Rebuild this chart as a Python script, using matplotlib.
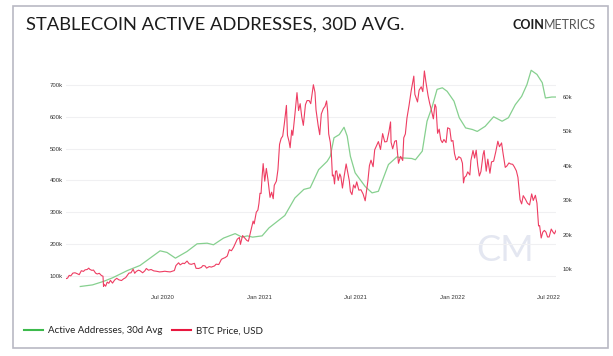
import matplotlib
matplotlib.use("Agg")
import matplotlib.pyplot as plt
import matplotlib.dates as mdates
from matplotlib.lines import Line2D
from matplotlib.patches import Rectangle
import pandas as pd

plt.rcParams['font.family'] = ['Lato', 'DejaVu Sans']

# Active addresses, 30d avg (left axis)
aa_dates = ["2020-01-28", "2020-02-20", "2020-03-12", "2020-03-30", "2020-04-26", "2020-05-20",
            "2020-06-08", "2020-06-27", "2020-07-10", "2020-07-26", "2020-08-17", "2020-09-05",
            "2020-09-24", "2020-10-06", "2020-10-25", "2020-11-16", "2020-11-29", "2020-12-09",
            "2020-12-19", "2021-01-06", "2021-01-19", "2021-02-18", "2021-03-09", "2021-03-26",
            "2021-04-07", "2021-04-23", "2021-05-09", "2021-05-15", "2021-05-22", "2021-06-01",
            "2021-06-10", "2021-06-16", "2021-06-22", "2021-07-01", "2021-07-20", "2021-08-02",
            "2021-08-14", "2021-09-02", "2021-09-18", "2021-09-27", "2021-10-16", "2021-10-23",
            "2021-11-05", "2021-11-14", "2021-11-24", "2021-12-03", "2021-12-13", "2021-12-22",
            "2022-01-04", "2022-01-14", "2022-01-26", "2022-02-08", "2022-02-17", "2022-03-04",
            "2022-03-20", "2022-04-05", "2022-04-17", "2022-04-30", "2022-05-12", "2022-05-22",
            "2022-05-30", "2022-06-10", "2022-06-20", "2022-06-26", "2022-07-08", "2022-07-16"]
aa_values = [67, 72, 83, 95, 117, 133,
             156, 179, 174, 156, 177, 201,
             203, 198, 219, 233, 222, 226,
             222, 226, 251, 290, 345, 372,
             377, 434, 460, 476, 534, 544,
             567, 539, 476, 424, 381, 361,
             366, 450, 474, 471, 469, 465,
             492, 586, 633, 686, 691, 680,
             649, 597, 565, 560, 554, 570,
             600, 586, 597, 638, 664, 701,
             746, 733, 707, 659, 662, 662]

# BTC price, USD (right axis), in thousands
btc_dates = ["2020-01-01", "2020-01-04", "2020-01-07", "2020-01-10", "2020-01-14", "2020-01-18",
             "2020-01-22", "2020-01-26", "2020-01-30", "2020-02-03", "2020-02-06", "2020-02-10",
             "2020-02-13", "2020-02-15", "2020-02-19", "2020-02-22", "2020-02-26", "2020-02-29",
             "2020-03-04", "2020-03-08", "2020-03-11", "2020-03-12", "2020-03-13", "2020-03-16",
             "2020-03-19", "2020-03-22", "2020-03-25", "2020-03-29", "2020-04-02", "2020-04-06",
             "2020-04-10", "2020-04-15", "2020-04-19", "2020-04-23", "2020-04-29", "2020-05-03",
             "2020-05-07", "2020-05-10", "2020-05-13", "2020-05-17", "2020-05-20", "2020-05-25",
             "2020-05-29", "2020-06-01", "2020-06-05", "2020-06-10", "2020-06-15", "2020-06-20",
             "2020-06-26", "2020-07-01", "2020-07-06", "2020-07-10", "2020-07-16", "2020-07-21",
             "2020-07-24", "2020-07-27", "2020-08-01", "2020-08-04", "2020-08-09", "2020-08-12",
             "2020-08-17", "2020-08-21", "2020-08-25", "2020-08-31", "2020-09-03", "2020-09-08",
             "2020-09-13", "2020-09-16", "2020-09-20", "2020-09-23", "2020-09-28", "2020-10-02",
             "2020-10-08", "2020-10-11", "2020-10-16", "2020-10-21", "2020-10-24", "2020-10-28",
             "2020-11-01", "2020-11-05", "2020-11-09", "2020-11-13", "2020-11-17", "2020-11-20",
             "2020-11-24", "2020-11-26", "2020-11-30", "2020-12-03", "2020-12-08", "2020-12-11",
             "2020-12-16", "2020-12-20", "2020-12-22", "2020-12-26", "2020-12-29", "2020-12-31",
             "2021-01-02", "2021-01-04", "2021-01-06", "2021-01-08", "2021-01-11", "2021-01-14",
             "2021-01-17", "2021-01-21", "2021-01-24", "2021-01-27", "2021-01-29", "2021-02-02",
             "2021-02-05", "2021-02-08", "2021-02-11", "2021-02-14", "2021-02-17", "2021-02-21",
             "2021-02-23", "2021-02-26", "2021-02-28", "2021-03-03", "2021-03-05", "2021-03-09",
             "2021-03-13", "2021-03-16", "2021-03-19", "2021-03-22", "2021-03-25", "2021-03-29",
             "2021-04-01", "2021-04-05", "2021-04-08", "2021-04-13", "2021-04-16", "2021-04-18",
             "2021-04-22", "2021-04-25", "2021-04-28", "2021-05-02", "2021-05-05", "2021-05-08",
             "2021-05-10", "2021-05-12", "2021-05-15", "2021-05-17", "2021-05-19", "2021-05-21",
             "2021-05-23", "2021-05-25", "2021-05-27", "2021-05-30", "2021-06-02", "2021-06-04",
             "2021-06-07", "2021-06-10", "2021-06-14", "2021-06-17", "2021-06-20", "2021-06-22",
             "2021-06-25", "2021-06-28", "2021-07-01", "2021-07-04", "2021-07-08", "2021-07-12",
             "2021-07-16", "2021-07-20", "2021-07-22", "2021-07-25", "2021-07-28", "2021-07-31",
             "2021-08-04", "2021-08-07", "2021-08-10", "2021-08-14", "2021-08-18", "2021-08-22",
             "2021-08-26", "2021-08-30", "2021-09-03", "2021-09-06", "2021-09-07", "2021-09-10",
             "2021-09-14", "2021-09-17", "2021-09-21", "2021-09-25", "2021-09-29", "2021-10-01",
             "2021-10-04", "2021-10-07", "2021-10-11", "2021-10-15", "2021-10-20", "2021-10-22",
             "2021-10-27", "2021-10-30", "2021-11-03", "2021-11-06", "2021-11-09", "2021-11-12",
             "2021-11-16", "2021-11-19", "2021-11-22", "2021-11-26", "2021-11-29", "2021-12-01",
             "2021-12-04", "2021-12-07", "2021-12-10", "2021-12-13", "2021-12-16", "2021-12-20",
             "2021-12-23", "2021-12-27", "2021-12-30",
             "2022-01-02", "2022-01-05", "2022-01-08", "2022-01-10", "2022-01-13", "2022-01-17",
             "2022-01-20", "2022-01-22", "2022-01-24", "2022-01-27", "2022-01-30", "2022-02-03",
             "2022-02-05", "2022-02-09", "2022-02-12", "2022-02-15", "2022-02-18", "2022-02-21",
             "2022-02-24", "2022-02-28", "2022-03-02", "2022-03-06", "2022-03-09", "2022-03-13",
             "2022-03-16", "2022-03-20", "2022-03-24", "2022-03-28", "2022-03-31", "2022-04-04",
             "2022-04-07", "2022-04-11", "2022-04-14", "2022-04-18", "2022-04-21", "2022-04-25",
             "2022-04-28", "2022-05-02", "2022-05-05", "2022-05-09", "2022-05-12", "2022-05-15",
             "2022-05-19", "2022-05-23", "2022-05-27", "2022-05-31", "2022-06-03", "2022-06-07",
             "2022-06-10", "2022-06-13", "2022-06-15", "2022-06-18", "2022-06-21", "2022-06-24",
             "2022-06-27", "2022-06-30", "2022-07-03", "2022-07-07", "2022-07-10", "2022-07-13",
             "2022-07-16"]
btc_values = [7.20, 7.35, 8.15, 8.00, 8.80, 8.90,
              8.65, 8.35, 9.50, 9.30, 9.75, 9.85,
              10.25, 9.90, 9.60, 9.70, 8.80, 8.55,
              8.75, 8.10, 7.90, 4.95, 5.55, 5.00,
              6.20, 5.85, 6.70, 5.90, 6.80, 7.30,
              6.85, 6.65, 7.15, 7.50, 8.80, 8.90,
              9.95, 8.75, 9.30, 9.65, 9.50, 8.90,
              9.45, 10.15, 9.65, 9.85, 9.45, 9.35,
              9.15, 9.23, 9.35, 9.25, 9.15, 9.38,
              9.55, 11.00, 11.80, 11.20, 11.70, 11.55,
              12.30, 11.50, 11.35, 11.65, 10.20, 10.15,
              10.45, 11.00, 10.90, 10.25, 10.70, 10.55,
              10.90, 11.40, 11.30, 12.80, 13.05, 13.30,
              13.75, 15.60, 15.30, 16.30, 17.65, 18.65,
              19.15, 17.15, 19.70, 19.20, 18.30, 18.05,
              21.30, 23.90, 23.10, 26.50, 27.10, 29.00,
              32.00, 31.90, 36.80, 40.60, 35.50, 39.20,
              36.00, 30.80, 32.30, 30.40, 34.30, 35.50,
              38.90, 46.20, 47.90, 48.60, 52.10, 57.50,
              48.80, 47.00, 45.20, 50.30, 48.80, 54.80,
              61.20, 56.00, 58.00, 54.20, 51.70, 57.70,
              58.90, 58.90, 58.00, 63.50, 61.30, 56.20,
              51.70, 49.00, 55.00, 56.60, 57.20, 58.80,
              55.80, 49.20, 46.80, 43.50, 37.00, 37.30,
              34.70, 38.40, 38.50, 35.70, 37.60, 36.80,
              33.50, 36.70, 40.50, 38.00, 35.60, 32.50,
              31.60, 34.40, 33.50, 35.30, 32.90, 33.00,
              31.80, 29.80, 32.10, 35.40, 40.00, 41.60,
              39.70, 44.60, 45.60, 47.00, 44.70, 49.30,
              46.90, 47.00, 49.90, 52.70, 46.80, 44.90,
              47.10, 47.30, 40.70, 42.70, 41.50, 48.10,
              49.20, 53.80, 57.50, 61.70, 66.00, 60.70,
              58.50, 61.90, 62.90, 61.50, 67.50, 64.20,
              60.30, 58.10, 56.30, 53.60, 57.80, 57.00,
              49.40, 50.60, 47.50, 46.70, 47.60, 46.70,
              51.00, 50.70, 47.10,
              47.30, 43.50, 41.70, 41.80, 42.60, 42.20,
              40.70, 35.00, 36.60, 37.00, 38.20, 37.30,
              41.50, 44.40, 42.20, 44.50, 40.00, 37.00,
              38.30, 43.20, 44.40, 38.40, 41.90, 37.80,
              41.10, 41.30, 44.00, 47.10, 45.50, 46.60,
              43.40, 39.50, 39.90, 40.80, 40.50, 40.40,
              39.70, 38.50, 36.60, 30.10, 28.90, 31.30,
              30.30, 29.10, 28.60, 31.80, 29.90, 31.40,
              29.10, 22.50, 22.60, 19.00, 20.70, 21.20,
              20.70, 19.30, 19.30, 21.60, 20.80, 20.20,
              21.20]

left_ticks = [100, 200, 300, 400, 500, 600, 700]
right_ticks = [10, 20, 30, 40, 50, 60]
x_ticks = ["2020-07-01", "2021-01-01", "2021-07-01", "2022-01-01", "2022-07-01"]

aa_x = pd.to_datetime(aa_dates)
btc_x = pd.to_datetime(btc_dates)

W, H = 613, 356
fig = plt.figure(figsize=(W / 100, H / 100), dpi=100)
fig.patch.set_facecolor('white')

# card border
fig.patches.append(Rectangle((12.5 / W, 1 - 348 / H), (608 - 12.5) / W, (348 - 6) / H,
                             transform=fig.transFigure, fill=False,
                             edgecolor='#b9b9c3', linewidth=1.2))

ax = fig.add_axes([66 / W, 1 - 290 / H, (556 - 66) / W, (290 - 62) / H])
ax2 = ax.twinx()

ax.plot(aa_x, aa_values, color='#86d08f', lw=0.9)
ax2.plot(btc_x, btc_values, color='#ee3d62', lw=0.8)

ax.set_xlim(pd.Timestamp("2020-01-01"), pd.Timestamp("2022-07-16"))
ax.set_ylim(56, 772)
ax2.set_ylim(3.9, 70.1)

ax.set_yticks(left_ticks)
ax.set_yticklabels([f"{v}k" for v in left_ticks])
ax2.set_yticks(right_ticks)
ax2.set_yticklabels([f"{v}k" for v in right_ticks])
ax.set_xticks(pd.to_datetime(x_ticks))
ax.xaxis.set_major_formatter(mdates.DateFormatter("%b %Y"))

ax.grid(axis='y', color='#f0f0f2', lw=0.8)
ax.grid(axis='x', visible=False)
for a in (ax, ax2):
    for s in a.spines.values():
        s.set_visible(False)
ax.tick_params(axis='y', length=0, pad=2.2, labelsize=4.3, labelcolor='#333333')
ax.tick_params(axis='x', length=0, pad=3.5, labelsize=4.3, labelcolor='#333333')
ax2.tick_params(axis='y', length=0, pad=5, labelsize=4.3, labelcolor='#333333')
for lab in ax.get_xticklabels() + ax.get_yticklabels() + ax2.get_yticklabels():
    lab.set_family(['Liberation Sans', 'DejaVu Sans'])

# watermark
ax.text(0.896, 0.175, "CM", transform=ax.transAxes, fontsize=26, color='#e4e7f1',
        ha='center', va='center', zorder=0)

# title and logo
fig.text(26.5 / W, 1 - 25 / H, "STABLECOIN ACTIVE ADDRESSES, 30D AVG.", fontsize=13.2,
         color='#1c1c1c', ha='left', va='center')
t_metrics = fig.text(596 / W, 1 - 25 / H, "METRICS", fontsize=9, color='#555555',
                     ha='right', va='center')
fig.canvas.draw()
bb = t_metrics.get_window_extent()
fig.text((bb.x0 + 0.5) / W, 1 - 25 / H, "COIN", fontsize=9, color='#1c1c1c', ha='right',
         va='center', fontweight='bold')

handles = [Line2D([], [], color='#3dba4c', lw=1.5), Line2D([], [], color='#e8173f', lw=1.5)]
fig.legend(handles, ["Active Addresses, 30d Avg", "BTC Price, USD"], loc='center left',
           bbox_to_anchor=(24 / W, 1 - 330.7 / H), frameon=False, ncol=2, fontsize=7,
           handlelength=2.0, handletextpad=0.45, columnspacing=1.0,
           borderaxespad=0, borderpad=0, labelcolor='#222222')

fig.savefig("out.png", dpi=100)
